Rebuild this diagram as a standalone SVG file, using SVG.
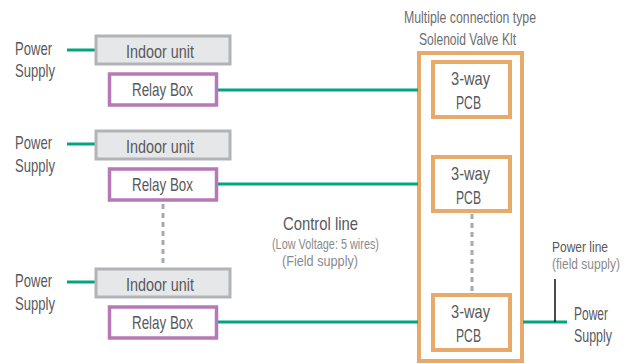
<svg xmlns="http://www.w3.org/2000/svg" width="636" height="364" viewBox="0 0 636 364">
<style>
text{font-family:"Liberation Sans",Arial,sans-serif;fill:#58595b}
.m{font-size:18.5px}
.p{font-size:15.5px}
.s{font-size:15px;fill:#8a8b8d}
.h{font-size:16.5px;fill:#6d6e70}
.indoor{fill:#e6e7e8;stroke:#b1b3b6;stroke-width:3}
.relay{fill:#fff;stroke:#b679b6;stroke-width:3.5}
.kit{fill:#fff;stroke:#e8aa6a;stroke-width:4}
.pcb{fill:#fff;stroke:#e8aa6a;stroke-width:4}
.g{stroke:#00a582;stroke-width:3;fill:none}
.d{stroke:#a7a9ac;stroke-width:3;stroke-dasharray:5 4;fill:none}
</style>
<g id="kit">
<rect class="kit" x="419" y="53" width="103" height="308"/>
<text class="h" x="404" y="23" textLength="132" lengthAdjust="spacingAndGlyphs">Multiple connection type</text>
<text class="h" x="419" y="45" textLength="97" lengthAdjust="spacingAndGlyphs">Solenoid Valve Klt</text>
</g>
<g id="connectors">
<line class="g" x1="67" y1="50" x2="95" y2="50"/>
<line class="g" x1="67" y1="144" x2="95" y2="144"/>
<line class="g" x1="67" y1="282" x2="95" y2="282"/>
<line class="g" x1="217" y1="90" x2="418" y2="90"/>
<line class="g" x1="217" y1="184" x2="418" y2="184"/>
<line class="g" x1="217" y1="322" x2="418" y2="322"/>
<line class="g" x1="523" y1="322" x2="567" y2="322"/>
<line x1="555" y1="279" x2="555" y2="322" stroke="#111" stroke-width="1.5"/>
<line class="d" x1="163" y1="204" x2="163" y2="267"/>
<line class="d" x1="472" y1="214" x2="472" y2="293"/>
</g>
<g id="ps1"><text class="m" x="15" y="55" textLength="37" lengthAdjust="spacingAndGlyphs">Power</text><text class="m" x="15" y="77" textLength="40" lengthAdjust="spacingAndGlyphs">Supply</text></g>
<g id="ps2"><text class="m" x="15" y="149" textLength="37" lengthAdjust="spacingAndGlyphs">Power</text><text class="m" x="15" y="172" textLength="40" lengthAdjust="spacingAndGlyphs">Supply</text></g>
<g id="ps3"><text class="m" x="15" y="287" textLength="37" lengthAdjust="spacingAndGlyphs">Power</text><text class="m" x="15" y="310" textLength="40" lengthAdjust="spacingAndGlyphs">Supply</text></g>
<g id="ps4"><text class="m" x="574" y="320" textLength="34" lengthAdjust="spacingAndGlyphs">Power</text><text class="m" x="574" y="342" textLength="38" lengthAdjust="spacingAndGlyphs">Supply</text></g>
<g id="indoor1"><rect class="indoor" x="96" y="36" width="134" height="28"/><text class="m" x="126" y="58" textLength="68" lengthAdjust="spacingAndGlyphs">Indoor unit</text></g>
<g id="indoor2"><rect class="indoor" x="96" y="131" width="134" height="28"/><text class="m" x="126" y="153" textLength="68" lengthAdjust="spacingAndGlyphs">Indoor unit</text></g>
<g id="indoor3"><rect class="indoor" x="96" y="269" width="134" height="28"/><text class="m" x="126" y="291" textLength="68" lengthAdjust="spacingAndGlyphs">Indoor unit</text></g>
<g id="relay1"><rect class="relay" x="109.5" y="74" width="107" height="31"/><text class="m" x="132" y="96" textLength="61" lengthAdjust="spacingAndGlyphs">Relay Box</text></g>
<g id="relay2"><rect class="relay" x="109.5" y="169" width="107" height="31"/><text class="m" x="132" y="191" textLength="61" lengthAdjust="spacingAndGlyphs">Relay Box</text></g>
<g id="relay3"><rect class="relay" x="109.5" y="307" width="107" height="31"/><text class="m" x="132" y="329" textLength="61" lengthAdjust="spacingAndGlyphs">Relay Box</text></g>
<g id="pcb1"><rect class="pcb" x="433" y="62" width="77" height="55"/><text class="m" x="451" y="85" textLength="39" lengthAdjust="spacingAndGlyphs">3-way</text><text class="m" x="456" y="109" textLength="25" lengthAdjust="spacingAndGlyphs">PCB</text></g>
<g id="pcb2"><rect class="pcb" x="433" y="157" width="77" height="54"/><text class="m" x="451" y="180" textLength="39" lengthAdjust="spacingAndGlyphs">3-way</text><text class="m" x="456" y="204" textLength="25" lengthAdjust="spacingAndGlyphs">PCB</text></g>
<g id="pcb3"><rect class="pcb" x="433" y="295" width="77" height="55"/><text class="m" x="451" y="318" textLength="39" lengthAdjust="spacingAndGlyphs">3-way</text><text class="m" x="456" y="342" textLength="25" lengthAdjust="spacingAndGlyphs">PCB</text></g>
<g id="control-label">
<text class="m" x="283" y="230" textLength="75" lengthAdjust="spacingAndGlyphs">Control line</text>
<text class="s" x="272" y="249" textLength="107" lengthAdjust="spacingAndGlyphs">(Low Voltage: 5 wires)</text>
<text class="s" x="282" y="266" textLength="76" lengthAdjust="spacingAndGlyphs">(Field supply)</text>
</g>
<g id="power-label">
<text class="p" x="552" y="252" textLength="56" lengthAdjust="spacingAndGlyphs">Power line</text>
<text class="s" x="552" y="269" textLength="68" lengthAdjust="spacingAndGlyphs">(field supply)</text>
</g>
</svg>
